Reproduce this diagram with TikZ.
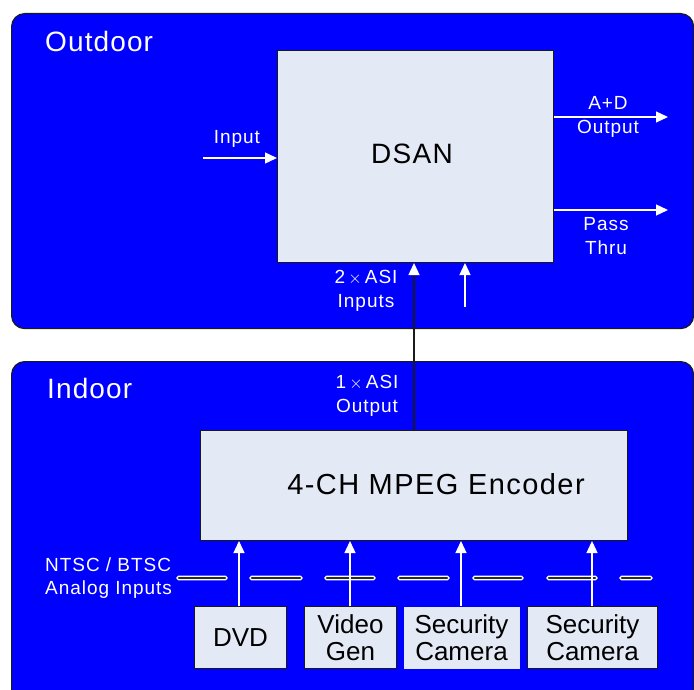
\documentclass[tikz,border=0pt]{standalone}
\usepackage{fontspec}
\setmainfont{Liberation Sans}
\newfontfamily\spaced[LetterSpace=5]{Liberation Sans}
\newfontfamily\spacedb[LetterSpace=4]{Liberation Sans}
\usetikzlibrary{arrows.meta}
\definecolor{panelblue}{HTML}{0000FF}
\definecolor{boxfill}{HTML}{E4EAF5}
\definecolor{edge}{HTML}{1A1A1A}
\definecolor{dashin}{HTML}{2A2A2A}
\begin{document}
\begin{tikzpicture}[x=1pt,y=-1pt,
  panel/.style={draw=edge,line width=1.2pt,fill=panelblue,rounded corners=13pt,anchor=north west,inner sep=0pt},
  block/.style={draw=edge,line width=1pt,fill=boxfill,anchor=north west,inner sep=0pt,text=black},
  wlabel/.style={text=white,font=\spaced\fontsize{19}{23.5}\selectfont,align=center,inner sep=0pt},
  plabel/.style={text=white,font=\spacedb\fontsize{28}{30}\selectfont,inner sep=0pt,anchor=west},
  srctext/.style={font=\fontsize{26}{27}\selectfont,inner sep=0pt,align=center},
  bigtext/.style={font=\spaced\fontsize{29}{30}\selectfont,inner sep=0pt},
  warrow/.style={white,line width=1.3pt,-{Triangle[length=12pt,width=11pt]}},
  barline/.style={draw=white,fill=dashin,line width=1.3pt,rounded corners=1.5pt}
]
\useasboundingbox (0,0) rectangle (694,690);
\fill[white] (0,0) rectangle (694,690);

% panels
\node[panel,minimum width=682pt,minimum height=315pt] (outdoor) at (11,13) {};
\node[panel,minimum width=682pt,minimum height=340pt] (indoor) at (11,361) {};
\node[plabel] (outlbl) at (45,41) {Outdoor};
\node[plabel] (inlbl) at (47,388) {Indoor};

% DSAN
\node[block,minimum width=276pt,minimum height=212pt] (dsan) at (277,50) {};
\node[bigtext,font=\spaced\fontsize{28}{30}\selectfont] (dsantxt) at (412,154) {DSAN};

% Encoder
\node[block,minimum width=427pt,minimum height=110pt] (enc) at (200,430) {};
\node[bigtext] (enctxt) at (436,484) {4-CH MPEG Encoder};

% sources
\node[block,minimum width=92pt,minimum height=62pt] (dvd) at (194,606) {};
\node[srctext] at (dvd.center) {DVD};
\node[block,minimum width=92pt,minimum height=62pt] (vgen) at (304,606) {};
\node[srctext] at (vgen.center) {Video\\Gen};
\node[block,draw=none,minimum width=116pt,minimum height=62pt] (cam1) at (403,606) {};
\node[srctext] at (cam1.center) {Security\\Camera};
\node[block,minimum width=130pt,minimum height=62pt] (cam2) at (527,606) {};
\node[srctext] at (cam2.center) {Security\\Camera};

% labels
\node[wlabel] (inputlbl) at (237,139) {Input};
\node[wlabel] (adlbl) at (608,117) {A+D\\Output};
\node[wlabel] (passlbl) at (606,236) {Pass\\Thru};
\node[wlabel] (asiin) at (366,291) {2\,$\times$\,ASI\\Inputs};
\node[wlabel] (asiout) at (367,396) {1\,$\times$\,ASI\\Output};
\node[wlabel,align=left,anchor=west] (ntsc) at (45,578) {NTSC / BTSC\\Analog Inputs};

% coordinates
\coordinate (inS) at (203,158);
\coordinate (adE) at (668,117);
\coordinate (passE) at (668,210);
\coordinate (asi2S) at (465,307);

% analog input bar
\foreach \a/\b in {177/227,250/302,325/375,398/449,473/523,547/597,620/652}
  \draw[barline] (\a,576.3) rectangle (\b,579.7);

% DSAN arrows
\draw[warrow] (inS) -- (inS -| dsan.west);
\draw[warrow] (dsan.east |- adE) -- (adE);
\draw[warrow] (dsan.east |- passE) -- (passE);
\draw[warrow] (asi2S) -- (asi2S |- dsan.south);
\draw[edge,line width=1.3pt,-{Triangle[length=12pt,width=11pt,color=white]}] (enc.north -| 414,0) -- (dsan.south -| 414,0);

% source arrows
\draw[warrow] (dvd.north -| 239,0) -- (enc.south -| 239,0);
\draw[warrow] (vgen.north -| 350,0) -- (enc.south -| 350,0);
\draw[warrow] (cam1.north -| 461,0) -- (enc.south -| 461,0);
\draw[warrow] (cam2.north -| 592,0) -- (enc.south -| 592,0);
\end{tikzpicture}
\end{document}
